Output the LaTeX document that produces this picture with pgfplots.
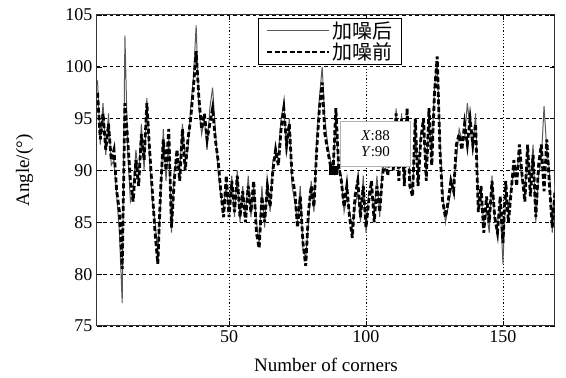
\documentclass[border=0pt]{standalone}
\usepackage{pgfplots}
\usepackage{pgfplotstable}
\pgfplotsset{compat=1.18}
\usepackage{fontspec}
\setmainfont{Liberation Serif}
\newfontfamily\cjk{Noto Sans CJK SC}
\pgfplotstableread{
x b a
2 97.5 98.7
3 93 92.5
4 95.5 96.5
5 92 91.5
6 94.5 95.5
7 91 90.5
8 92 91
9 88 87.5
10 86 84
11 80.5 77.2
12 96.5 103
13 93 92
14 89 87
15 87 88
16 91 92
17 88.5 89.5
18 93.5 94.5
19 91 90
20 96.5 97
21 92 91
22 88 87
23 84 85
24 81 82
25 88 87
26 93 94
27 90 89
28 94 93
29 84.5 84
30 89 90
31 92 91
32 89 90
33 94 94.5
34 90 91
35 93 92
36 95 96
37 98 99
38 101.5 104
39 97 96
40 94 93.5
41 95.5 95
42 93 92
43 94.5 96
44 96 98
45 93 94
46 91 90
47 88 87.5
48 85.5 86.5
49 89.5 88.5
50 85.5 86
51 89 89.5
52 86 85.5
53 89.5 90
54 85.5 85
55 88 88.5
56 85 85.5
57 88.5 89.5
58 86 85.5
59 89 88.5
60 84 85
61 82.5 83
62 87.5 88.5
63 85 84.5
64 88.5 89
65 86.5 86
66 90 91
67 92 91.5
68 90.5 91.5
69 94 95
70 96 96.5
71 92.5 91.5
72 94.5 95
73 89.5 88.5
74 88 87
75 84.5 85
76 87.5 88.5
77 83 82.5
78 80.8 81.5
79 86 85
80 88.5 89
81 86.5 86
82 92 93
83 96 97
84 98.5 100
85 93.5 95
86 92 92.5
87 90.5 91
88 90 90
89 96 95
90 90.5 90
91 89 89.5
92 86.5 86
93 88.5 87.5
94 85.5 86
95 83.5 84.5
96 87.5 86.5
97 89 88
98 85.5 85
99 88.5 89.5
100 84.5 84
101 87 88
102 89 88
103 85 86
104 88.5 89.5
105 86 85.5
106 89.5 90.5
107 91 90
108 89.5 91
109 94 93
110 90 91
111 95.5 96
112 89 90
113 95 95.5
114 88.5 89
115 96 95
116 88.5 89.5
117 87.5 88
118 95 94
119 88.5 89.5
120 93 93.5
121 95 94
122 89 90
123 96 95
124 90.5 91.5
125 97.5 98
126 101 100.5
127 92 93
128 87 88
129 85.5 85
130 87 86.5
131 89 88
132 88 89
133 92.5 91
134 93.5 94
135 92 93
136 94.5 93
137 92.5 96.5
138 95 94
139 92.5 92
140 94.5 95.5
141 86 87
142 88.5 87.5
143 84 85
144 87.5 86
145 85 84
146 89 89.5
147 85.5 85
148 84 85
149 87.5 86.5
150 83 81
151 89 88
152 85 86
153 88 88.5
154 91 90
155 88.5 90
156 92.5 91.5
157 89.5 89
158 87 88
159 92.5 91.5
160 87.5 89
161 91.5 92.5
162 85.5 85
163 90.5 89.5
164 92.5 91
165 88 96.2
166 93 92
167 88.5 90
168 84.5 84
169 88 89
}\datatable
\begin{document}
\begin{tikzpicture}
\useasboundingbox (-97pt,-52pt) rectangle (469pt,326pt);
\begin{axis}[
  scale only axis,
  width=458pt, height=311pt,
  xmin=1.8, xmax=169, ymin=75, ymax=105,
  xtick={50,100,150}, ytick={75,80,...,105},
  tick align=inside, major tick length=5pt,
  tick style={black, line width=0.6pt},
  axis line style={black!80, line width=1pt},
  /pgf/number format/assume math mode=true,
  tick label style={font=\fontsize{18}{20}\selectfont},
  every x tick label/.append style={yshift=-1pt},
  every y tick label/.append style={xshift=-1pt},
  xlabel={Number of corners},
  ylabel={Angle/(°)},
  label style={font=\fontsize{19}{22}\selectfont},
  xlabel style={at={(axis description cs:0.5,-0.125)}, anchor=center},
  ylabel style={at={(axis description cs:-0.158,0.5)}, anchor=center},
  grid=major,
  x grid style={black, line width=0.9pt, dash pattern=on 1.2pt off 2pt},
  y grid style={black, line width=0.8pt, dash pattern=on 3.5pt off 3pt},
  legend cell align=left,
  legend style={at={(0.352,0.99)}, anchor=north west,
    draw=black, line width=1pt, fill=white,
    font=\cjk\fontsize{20}{21}\selectfont,
    inner xsep=7pt, inner ysep=1pt, row sep=-1pt,
    /tikz/every even column/.append style={column sep=3pt}},
  legend image code/.code={\draw[#1] (0pt,0pt) -- (62pt,0pt);},
]
\addplot[black!65, line width=1pt] table[x=x,y=a] {\datatable};
\addlegendentry{加噪后}
\addplot[black, line width=2.8pt, dash pattern=on 5pt off 2.5pt] table[x=x,y=b] {\datatable};
\addlegendentry{加噪前}
\addplot[black, only marks, mark=square*, mark size=4pt, forget plot] coordinates {(88,90)};
\node[draw=black!30, fill=white, line width=0.8pt, anchor=south west, xshift=7pt, yshift=4pt,
  minimum width=70pt, minimum height=45pt, align=left, inner sep=3pt,
  font=\fontsize{15}{16}\selectfont] at (axis cs:88,90) {\textit{X}:88\\\textit{Y}:90};
\end{axis}
\end{tikzpicture}
\end{document}
